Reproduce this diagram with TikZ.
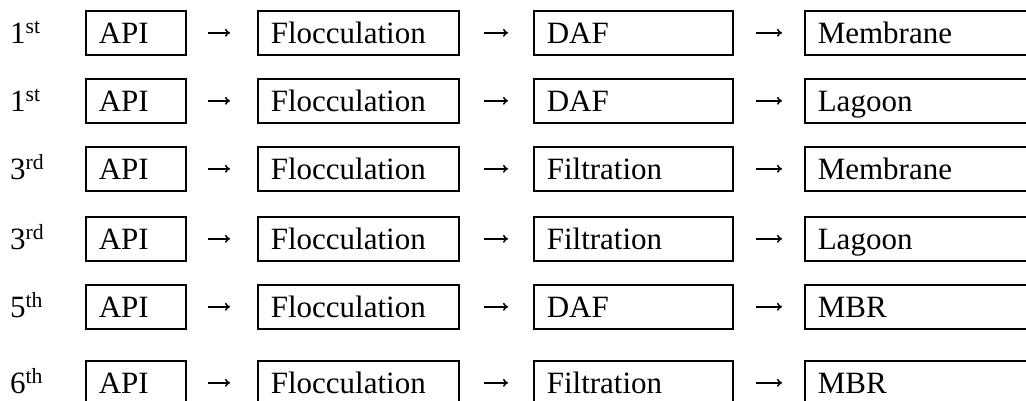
\documentclass[tikz,border=0pt]{standalone}
\usepackage{fontspec}
\setmainfont{Liberation Serif}
\usetikzlibrary{arrows.meta}
\begin{document}
\begin{tikzpicture}[x=1pt,y=-1pt,
  box/.style={draw, line width=1.6pt, rectangle, anchor=north west,
    minimum height=44pt, inner xsep=13pt, inner ysep=0pt,
    text height=26pt, text depth=4pt, align=left,
    font=\fontsize{31}{36}\selectfont},
  lab/.style={anchor=base west, inner sep=0pt, font=\fontsize{31}{36}\selectfont},
  arr/.style={line width=1.5pt, -{To[length=5pt,width=8pt]}}]
\useasboundingbox (0,0) rectangle (1026,400);
\foreach \rr/\tp/\nn/\su/\Lc/\Ld in {1/10/1/st/DAF/Membrane, 2/78/1/st/DAF/Lagoon, 3/146/3/rd/Filtration/Membrane, 4/216/3/rd/Filtration/Lagoon, 5/284/5/th/DAF/MBR, 6/360/6/th/Filtration/MBR} {
  \node[box, text width=74pt] (a\rr) at (85,\tp) {API};
  \node[box, text width=175pt] (b\rr) at (257,\tp) {Flocculation};
  \node[box, text width=173pt] (c\rr) at (533,\tp) {\Lc};
  \node[box, text width=222pt] (d\rr) at (804,\tp) {\Ld};
  \node[lab] (l\rr) at (10,\tp+33) {\nn\textsuperscript{\su}};
  \draw[arr, shorten <=21pt, shorten >=27pt] (a\rr.east) -- (b\rr.west);
  \draw[arr, shorten <=24pt, shorten >=25pt] (b\rr.east) -- (c\rr.west);
  \draw[arr, shorten <=22pt, shorten >=22pt] (c\rr.east) -- (d\rr.west);
}
\end{tikzpicture}
\end{document}
